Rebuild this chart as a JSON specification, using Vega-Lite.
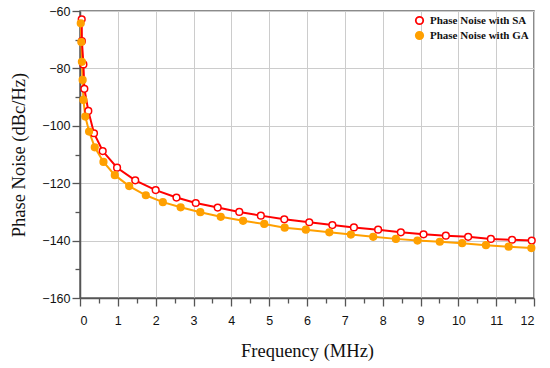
{
  "$schema": "https://vega.github.io/schema/vega-lite/v6.json",
  "width": 454,
  "height": 287,
  "autosize": {"type": "none"},
  "padding": {"left": 80, "top": 11, "right": 16, "bottom": 70},
  "background": "white",
  "config": {
    "view": {"stroke": "#666666", "strokeWidth": 1.5},
    "axis": {
      "labelFont": "Liberation Sans",
      "labelFontSize": 12.5,
      "labelColor": "#111111",
      "titleFont": "Liberation Serif",
      "titleFontWeight": "normal",
      "titleFontSize": 18.5,
      "titleColor": "#111111",
      "domainColor": "#555555",
      "domainWidth": 1.5,
      "tickColor": "#555555",
      "tickWidth": 1.3,
      "gridColor": "#cccccc",
      "gridWidth": 1
    }
  },
  "datasets": {
    "pts": [
      {"f": 0.045, "pn": -62.9, "s": "Phase Noise with SA"},
      {"f": 0.05, "pn": -70.5, "s": "Phase Noise with SA"},
      {"f": 0.09, "pn": -78.6, "s": "Phase Noise with SA"},
      {"f": 0.115, "pn": -87.1, "s": "Phase Noise with SA"},
      {"f": 0.22, "pn": -94.8, "s": "Phase Noise with SA"},
      {"f": 0.37, "pn": -102.6, "s": "Phase Noise with SA"},
      {"f": 0.6, "pn": -108.8, "s": "Phase Noise with SA"},
      {"f": 0.98, "pn": -114.6, "s": "Phase Noise with SA"},
      {"f": 1.46, "pn": -119.0, "s": "Phase Noise with SA"},
      {"f": 2.0, "pn": -122.4, "s": "Phase Noise with SA"},
      {"f": 2.55, "pn": -125.0, "s": "Phase Noise with SA"},
      {"f": 3.06, "pn": -126.9, "s": "Phase Noise with SA"},
      {"f": 3.64, "pn": -128.5, "s": "Phase Noise with SA"},
      {"f": 4.21, "pn": -130.0, "s": "Phase Noise with SA"},
      {"f": 4.78, "pn": -131.3, "s": "Phase Noise with SA"},
      {"f": 5.4, "pn": -132.6, "s": "Phase Noise with SA"},
      {"f": 6.06, "pn": -133.6, "s": "Phase Noise with SA"},
      {"f": 6.67, "pn": -134.6, "s": "Phase Noise with SA"},
      {"f": 7.24, "pn": -135.4, "s": "Phase Noise with SA"},
      {"f": 7.88, "pn": -136.2, "s": "Phase Noise with SA"},
      {"f": 8.48, "pn": -137.1, "s": "Phase Noise with SA"},
      {"f": 9.08, "pn": -137.8, "s": "Phase Noise with SA"},
      {"f": 9.67, "pn": -138.3, "s": "Phase Noise with SA"},
      {"f": 10.26, "pn": -138.7, "s": "Phase Noise with SA"},
      {"f": 10.86, "pn": -139.4, "s": "Phase Noise with SA"},
      {"f": 11.42, "pn": -139.7, "s": "Phase Noise with SA"},
      {"f": 11.94, "pn": -140.0, "s": "Phase Noise with SA"},
      {"f": 0.02, "pn": -64.3, "s": "Phase Noise with GA"},
      {"f": 0.035, "pn": -70.8, "s": "Phase Noise with GA"},
      {"f": 0.05, "pn": -77.7, "s": "Phase Noise with GA"},
      {"f": 0.07, "pn": -84.0, "s": "Phase Noise with GA"},
      {"f": 0.09, "pn": -91.0, "s": "Phase Noise with GA"},
      {"f": 0.14, "pn": -96.8, "s": "Phase Noise with GA"},
      {"f": 0.24, "pn": -102.0, "s": "Phase Noise with GA"},
      {"f": 0.39, "pn": -107.5, "s": "Phase Noise with GA"},
      {"f": 0.62, "pn": -112.6, "s": "Phase Noise with GA"},
      {"f": 0.92, "pn": -117.2, "s": "Phase Noise with GA"},
      {"f": 1.3, "pn": -121.0, "s": "Phase Noise with GA"},
      {"f": 1.74, "pn": -124.2, "s": "Phase Noise with GA"},
      {"f": 2.19, "pn": -126.6, "s": "Phase Noise with GA"},
      {"f": 2.66, "pn": -128.4, "s": "Phase Noise with GA"},
      {"f": 3.18, "pn": -130.1, "s": "Phase Noise with GA"},
      {"f": 3.72, "pn": -131.7, "s": "Phase Noise with GA"},
      {"f": 4.31, "pn": -133.1, "s": "Phase Noise with GA"},
      {"f": 4.87, "pn": -134.2, "s": "Phase Noise with GA"},
      {"f": 5.41, "pn": -135.5, "s": "Phase Noise with GA"},
      {"f": 5.97, "pn": -136.2, "s": "Phase Noise with GA"},
      {"f": 6.59, "pn": -137.1, "s": "Phase Noise with GA"},
      {"f": 7.16, "pn": -137.9, "s": "Phase Noise with GA"},
      {"f": 7.75, "pn": -138.7, "s": "Phase Noise with GA"},
      {"f": 8.35, "pn": -139.4, "s": "Phase Noise with GA"},
      {"f": 8.92, "pn": -140.0, "s": "Phase Noise with GA"},
      {"f": 9.51, "pn": -140.4, "s": "Phase Noise with GA"},
      {"f": 10.1, "pn": -140.9, "s": "Phase Noise with GA"},
      {"f": 10.73, "pn": -141.6, "s": "Phase Noise with GA"},
      {"f": 11.33, "pn": -142.1, "s": "Phase Noise with GA"},
      {"f": 11.93, "pn": -142.6, "s": "Phase Noise with GA"}
    ]
  },
  "data": {"name": "pts"},
  "resolve": {"axis": {"x": "independent", "y": "independent"}},
  "layer": [
    {
      "mark": {"type": "point", "opacity": 0},
      "encoding": {
        "x": {"field": "f", "type": "quantitative", "scale": {"domain": [0, 12], "nice": false},
          "axis": {"orient": "bottom", "values": [0.5,1.5,2.5,3.5,4.5,5.5,6.5,7.5,8.5,9.5,10.5,11.5], "labels": false, "grid": false, "domain": false, "tickSize": 5, "title": null}},
        "y": {"field": "pn", "type": "quantitative", "scale": {"domain": [-160, -60], "nice": false},
          "axis": {"orient": "left", "values": [-70,-90,-110,-130,-150], "labels": false, "grid": false, "domain": false, "tickSize": 5, "title": null}}
      }
    },
    {
      "transform": [{"filter": "datum.s == 'Phase Noise with GA'"}],
      "mark": {"type": "line", "strokeWidth": 2, "color": "#ffa000"},
      "encoding": {
        "x": {"field": "f", "type": "quantitative", "scale": {"domain": [0, 12], "nice": false},
          "axis": {"orient": "bottom", "values": [0,1,2,3,4,5,6,7,8,9,10,11,12], "tickSize": 8, "labelPadding": 8, "grid": true, "title": "Frequency (MHz)", "titlePadding": 15}},
        "y": {"field": "pn", "type": "quantitative", "scale": {"domain": [-160, -60], "nice": false},
          "axis": {"orient": "left", "values": [-160,-140,-120,-100,-80,-60], "tickSize": 8, "labelPadding": 2, "grid": true, "title": "Phase Noise (dBc/Hz)", "titlePadding": 13}}
      }
    },
    {
      "transform": [{"filter": "datum.s == 'Phase Noise with SA'"}],
      "mark": {"type": "line", "strokeWidth": 2, "color": "#ff0000"},
      "encoding": {
        "x": {"field": "f", "type": "quantitative", "axis": null},
        "y": {"field": "pn", "type": "quantitative", "axis": null}
      }
    },
    {
      "mark": {"type": "point", "size": 45, "strokeWidth": 1.5, "opacity": 1, "filled": false},
      "encoding": {
        "x": {"field": "f", "type": "quantitative", "axis": null},
        "y": {"field": "pn", "type": "quantitative", "axis": null},
        "stroke": {"field": "s", "type": "nominal",
          "scale": {"domain": ["Phase Noise with SA", "Phase Noise with GA"], "range": ["#ff0000", "#ffa000"]},
          "legend": {"title": null, "orient": "none", "legendX": 334, "legendY": 4, "padding": 0, "labelFont": "Liberation Serif", "labelFontWeight": "bold", "labelFontSize": 11, "labelColor": "#111111", "symbolSize": 55, "symbolStrokeWidth": 1.8, "rowPadding": 0, "labelOffset": 5}},
        "fill": {"field": "s", "type": "nominal",
          "scale": {"domain": ["Phase Noise with SA", "Phase Noise with GA"], "range": ["white", "#ffa000"]}}
      }
    }
  ]
}
